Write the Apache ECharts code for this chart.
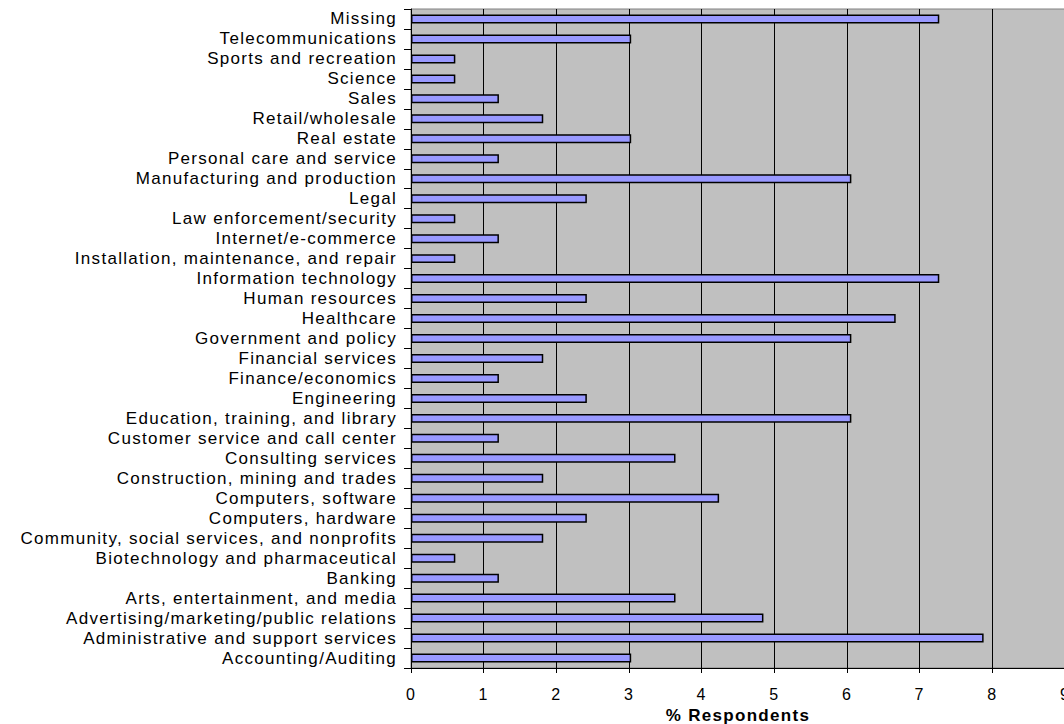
<!DOCTYPE html>
<html>
<head>
<meta charset="utf-8">
<script src="https://cdn.jsdelivr.net/npm/echarts@6/dist/echarts.min.js"></script>
<style>
  html, body { margin: 0; padding: 0; background: #ffffff; }
  #chart { width: 1064px; height: 724px; overflow: hidden; }
  /* slightly looser tracking for all chart text */
  #chart svg text { letter-spacing: 1.3px; }
</style>
</head>
<body>
<div id="chart"></div>
<script>
// Industries, listed top to bottom
const industries = [
  'Missing',
  'Telecommunications',
  'Sports and recreation',
  'Science',
  'Sales',
  'Retail/wholesale',
  'Real estate',
  'Personal care and service',
  'Manufacturing and production',
  'Legal',
  'Law enforcement/security',
  'Internet/e-commerce',
  'Installation, maintenance, and repair',
  'Information technology',
  'Human resources',
  'Healthcare',
  'Government and policy',
  'Financial services',
  'Finance/economics',
  'Engineering',
  'Education, training, and library',
  'Customer service and call center',
  'Consulting services',
  'Construction, mining and trades',
  'Computers, software',
  'Computers, hardware',
  'Community, social services, and nonprofits',
  'Biotechnology and pharmaceutical',
  'Banking',
  'Arts, entertainment, and media',
  'Advertising/marketing/public relations',
  'Administrative and support services',
  'Accounting/Auditing'
];

// Share of respondents in each industry (%)
const respondentsPct = [
  7.27, 3.03, 0.61, 0.61, 1.21, 1.82, 3.03, 1.21, 6.06, 2.42, 0.61,
  1.21, 0.61, 7.27, 2.42, 6.67, 6.06, 1.82, 1.21, 2.42, 6.06, 1.21,
  3.64, 1.82, 4.24, 2.42, 1.82, 0.61, 1.21, 3.64, 4.85, 7.88, 3.03
];

const axisTitle = '% Respondents';

const font = '"Liberation Sans", Arial, sans-serif';

const chart = echarts.init(document.getElementById('chart'), null, { renderer: 'svg' });
chart.setOption({
  animation: false,
  backgroundColor: '#ffffff',
  grid: {
    left: 411,
    right: -1,
    top: 9,
    bottom: 56,
    containLabel: false,
    outerBoundsMode: 'none',
    show: true,
    backgroundColor: '#c0c0c0',
    borderColor: '#808080',
    borderWidth: 1
  },
  xAxis: {
    type: 'value',
    min: 0,
    max: 9,
    interval: 1,
    name: axisTitle,
    nameLocation: 'middle',
    nameGap: 35,
    nameTextStyle: { fontFamily: font, fontSize: 17, fontWeight: 'bold', color: '#000' },
    axisLine: { show: true, lineStyle: { color: '#000', width: 1 } },
    axisTick: { show: true, length: 5, lineStyle: { color: '#000' } },
    axisLabel: { fontFamily: font, fontSize: 16, color: '#000', margin: 18 },
    splitLine: { show: true, lineStyle: { color: '#000', width: 1 } }
  },
  yAxis: {
    type: 'category',
    data: industries,
    inverse: true,
    axisLine: { show: true, lineStyle: { color: '#000', width: 1 } },
    axisTick: { show: true, length: 7, lineStyle: { color: '#000' } },
    axisLabel: {
      fontFamily: font, fontSize: 17, color: '#000', margin: 14, interval: 0,
      padding: [0, 0, 3, 0]
    },
    splitLine: { show: false }
  },
  series: [{
    type: 'bar',
    data: respondentsPct,
    barCategoryGap: '55%',
    itemStyle: { color: '#9999ff', borderColor: '#000', borderWidth: 1.5 }
  }]
});
</script>
</body>
</html>
